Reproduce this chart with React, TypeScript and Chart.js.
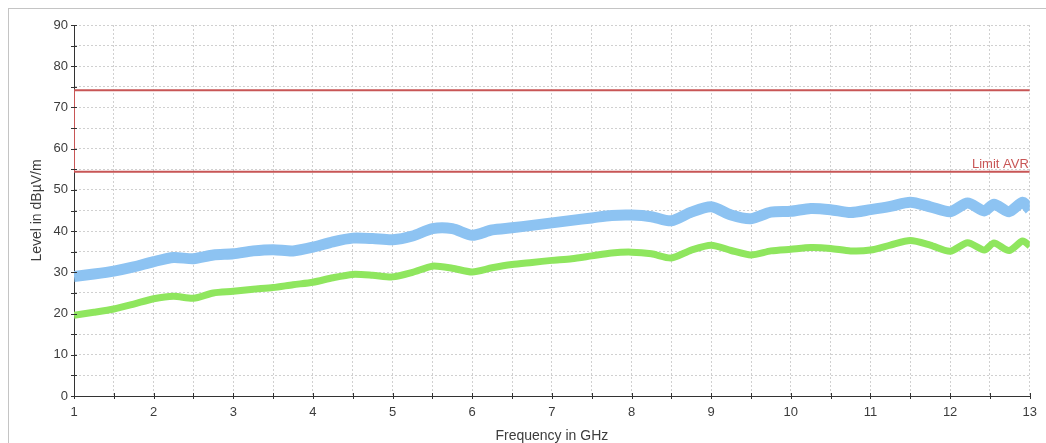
import React, { useEffect, useRef } from 'react';
import { Chart, registerables } from 'chart.js';

Chart.register(...registerables);

// Frequency axis (GHz)
const frequencies = [
  1.0, 1.25, 1.5, 1.75, 2.0, 2.25, 2.5, 2.75, 3.0, 3.25, 3.5, 3.75,
  4.0, 4.25, 4.5, 4.75, 5.0, 5.25, 5.5, 5.75, 6.0, 6.25, 6.5, 6.75,
  7.0, 7.25, 7.5, 7.75, 8.0, 8.25, 8.5, 8.75, 9.0, 9.25, 9.5, 9.75,
  10.0, 10.25, 10.5, 10.75, 11.0, 11.25, 11.5, 11.75, 12.0, 12.22, 12.43, 12.55,
  12.74, 12.91, 13.0,
];

// Peak trace (blue), dBµV/m
const peakLevels = [
  29.0, 29.6, 30.3, 31.3, 32.6, 33.6, 33.3, 34.2, 34.5, 35.2, 35.5, 35.2,
  36.1, 37.4, 38.3, 38.2, 37.9, 38.8, 40.6, 40.6, 39.0, 40.3, 40.8, 41.4,
  42.0, 42.6, 43.2, 43.8, 43.9, 43.5, 42.5, 44.6, 45.9, 43.9, 43.0, 44.6,
  44.8, 45.5, 45.2, 44.5, 45.2, 46.0, 47.0, 45.9, 44.7, 46.8, 44.9, 46.5,
  44.7, 47.0, 45.2,
];

// Average trace (green), dBµV/m
const avgLevels = [
  19.6, 20.3, 21.1, 22.3, 23.6, 24.2, 23.7, 25.0, 25.4, 25.9, 26.3, 27.0,
  27.6, 28.7, 29.5, 29.3, 28.9, 30.0, 31.5, 31.0, 30.1, 31.1, 31.9, 32.4,
  32.9, 33.3, 34.0, 34.7, 34.9, 34.5, 33.5, 35.4, 36.6, 35.3, 34.2, 35.2,
  35.6, 36.0, 35.8, 35.2, 35.4, 36.6, 37.7, 36.6, 35.1, 37.2, 35.4, 37.1,
  35.3, 37.6, 36.4,
];

// Limit outline: peak limit 74, average limit 54
const limitFreqs = [13, 1, 1, 13];
const limitLevels = [74.2, 74.2, 54.4, 54.4];
const limitLabel = 'Limit AVR';
const limitLabelLevel = 54.4;

const xTitle = 'Frequency in GHz';
const yTitle = 'Level in dBµV/m';

const FONT = "'Liberation Sans', Arial, sans-serif";
const RED = '#c85656';
const TEXT = '#3c3c3c';

const crossTicksPlugin = {
  id: 'crossTicks',
  afterDraw(chart: any) {
    const { ctx, scales } = chart;
    const xs = scales.x;
    const ys = scales.y;
    ctx.save();
    ctx.strokeStyle = '#333';
    ctx.lineWidth = 1;
    ctx.beginPath();
    xs.ticks.forEach((t: any) => {
      const px = Math.round(xs.getPixelForValue(t.value)) + 0.5;
      ctx.moveTo(px, ys.bottom - 3);
      ctx.lineTo(px, ys.bottom + 3);
    });
    ys.ticks.forEach((t: any) => {
      const py = Math.round(ys.getPixelForValue(t.value)) + 0.5;
      ctx.moveTo(xs.left - 3, py);
      ctx.lineTo(xs.left + 3, py);
    });
    ctx.stroke();
    // limit label
    ctx.fillStyle = RED;
    ctx.font = `13px ${FONT}`;
    ctx.textAlign = 'right';
    ctx.textBaseline = 'bottom';
    ctx.fillText(limitLabel, chart.chartArea.right - 1, ys.getPixelForValue(limitLabelLevel) - 1);
    ctx.restore();
  },
};

export default function App() {
  const ref = useRef<HTMLCanvasElement>(null);

  useEffect(() => {
    document.body.style.overflow = 'hidden';
    const canvas = ref.current!;
    const chart = new Chart(canvas, {
      type: 'line',
      data: {
        datasets: [
          {
            label: 'Limit',
            data: limitFreqs.map((f, i) => ({ x: f, y: limitLevels[i] })),
            borderColor: RED,
            borderWidth: 2,
            pointRadius: 0,
            tension: 0,
            fill: false,
          },
          {
            label: 'Peak',
            data: frequencies.map((f, i) => ({ x: f, y: peakLevels[i] })),
            borderColor: '#8dc3f2',
            borderWidth: 11,
            pointRadius: 0,
            tension: 0.25,
            fill: false,
          },
          {
            label: 'Average',
            data: frequencies.map((f, i) => ({ x: f, y: avgLevels[i] })),
            borderColor: '#8fe65e',
            borderWidth: 7,
            pointRadius: 0,
            tension: 0.25,
            fill: false,
          },
        ],
      },
      options: {
        responsive: false,
        animation: false,
        devicePixelRatio: 1,
        layout: { padding: { left: 0, right: 12, top: 25, bottom: 0 } },
        plugins: {
          legend: { display: false },
          tooltip: { enabled: false },
        },
        scales: {
          x: {
            type: 'linear',
            min: 1,
            max: 13,
            ticks: {
              stepSize: 0.5,
              autoSkip: false,
              maxRotation: 0,
              padding: 9,
              color: TEXT,
              font: { family: FONT, size: 13 },
              callback: (v: any) => (Number.isInteger(v) ? String(v) : ''),
            },
            grid: { color: '#d0d0d0', drawTicks: false },
            border: { display: true, color: '#333', width: 1, dash: [2, 2] },
            title: {
              display: true,
              text: xTitle,
              color: TEXT,
              font: { family: FONT, size: 14, lineHeight: 1.0 },
              padding: { top: 0, bottom: 0 },
            },
            afterFit: (s: any) => {
              s.height = 47;
            },
          },
          y: {
            type: 'linear',
            min: 0,
            max: 90,
            ticks: {
              stepSize: 5,
              autoSkip: false,
              padding: 6,
              color: TEXT,
              font: { family: FONT, size: 13 },
              callback: (v: any) => (v % 10 === 0 ? String(v) : ''),
            },
            grid: { color: '#d0d0d0', drawTicks: false },
            border: { display: true, color: '#333', width: 1, dash: [2, 2] },
            title: {
              display: true,
              text: yTitle,
              color: TEXT,
              font: { family: FONT, size: 14 },
              padding: { top: 29, bottom: 0 },
            },
            afterFit: (s: any) => {
              s.width = 74;
            },
          },
        },
      },
      plugins: [crossTicksPlugin],
    });
    return () => chart.destroy();
  }, []);

  return (
    <>
      <div
        style={{
          position: 'fixed',
          left: 8,
          top: 8,
          width: 1100,
          height: 500,
          border: '1px solid #c4c4c4',
          boxSizing: 'border-box',
        }}
      />
      <canvas
        ref={ref}
        width={1046}
        height={443}
        style={{ position: 'fixed', left: 0, top: 0, width: 1046, height: 443 }}
      />
    </>
  );
}
